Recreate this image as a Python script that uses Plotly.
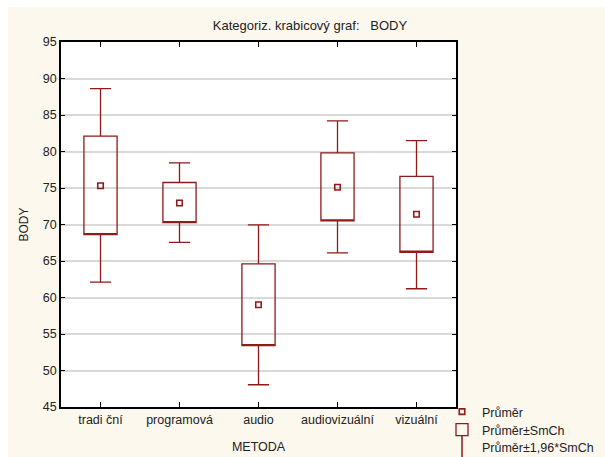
import plotly.graph_objects as go

# ---- data ----
categories = ["tradi ční", "programová", "audio", "audiovizuální", "vizuální"]
mean_vals = [75.3, 72.95, 59.0, 75.1, 71.4]
se_low = [68.6, 70.25, 53.4, 70.5, 66.2]        # Průměr - SmCh
se_high = [82.1, 75.75, 64.6, 79.8, 76.6]       # Průměr + SmCh
ci_low = [62.1, 67.55, 48.05, 66.1, 61.2]       # Průměr - 1,96*SmCh
ci_high = [88.6, 78.45, 69.95, 84.2, 81.5]      # Průměr + 1,96*SmCh
y_ticks = [45, 50, 55, 60, 65, 70, 75, 80, 85, 90, 95]

DARK_RED = "#8E1A1A"
CREAM = "#FDF8EE"
FONT = "Arial, Liberation Sans, sans-serif"
TXT = "#222222"

fig = go.Figure()

fig.add_trace(go.Box(
    x=categories,
    q1=se_low, median=se_low, q3=se_high,
    lowerfence=ci_low, upperfence=ci_high,
    name="Průměr±SmCh",
    line=dict(color=DARK_RED, width=1.3),
    fillcolor="rgba(255,255,255,0)",
    width=0.42,
    whiskerwidth=0.64,
    boxpoints=False,
    hoverinfo="skip",
    legend="legend2",
))

fig.add_trace(go.Scatter(
    x=categories, y=mean_vals, mode="markers",
    name="Průměr",
    marker=dict(symbol="square-open", size=5.5, color=DARK_RED,
                line=dict(color=DARK_RED, width=1.6)),
    legend="legend",
))

fig.add_trace(go.Scatter(
    x=[None], y=[None], mode="markers",
    name="Průměr±1,96*SmCh",
    marker=dict(symbol="line-ns-open", size=16, color=DARK_RED,
                line=dict(color=DARK_RED, width=1.5)),
    legend="legend3",
))

PX0, PX1 = 61, 456
PY0, PY1 = 42, 407
W, H = 605, 457
pw, ph = PX1 - PX0, PY1 - PY0

def fx(px):
    return (px - PX0) / pw

def fy(py):
    return (PY1 - py) / ph

shapes = [
    dict(type="rect", xref="paper", yref="paper", layer="below",
         x0=fx(0), x1=fx(W), y0=fy(7), y1=fy(0),
         fillcolor="white", line=dict(width=0)),
    dict(type="rect", xref="paper", yref="paper", layer="below",
         x0=fx(0), x1=fx(8), y0=fy(H), y1=fy(0),
         fillcolor="white", line=dict(width=0)),
]

def leg(top_px):
    return dict(x=fx(442), y=fy(top_px), xanchor="left", yanchor="top",
                bgcolor="rgba(0,0,0,0)", borderwidth=0,
                font=dict(family=FONT, size=12.5, color=TXT),
                itemwidth=30)

fig.update_layout(
    width=W, height=H,
    margin=dict(l=PX0, r=W - PX1, t=PY0, b=H - PY1, pad=0, autoexpand=False),
    paper_bgcolor=CREAM,
    plot_bgcolor="white",
    font=dict(family=FONT, size=11, color=TXT),
    title=dict(text="Kategoriz. krabicový graf:\u00a0\u00a0\u00a0BODY",
               x=310 / W, xref="container", xanchor="center",
               y=1 - 25 / H, yref="container", yanchor="middle",
               font=dict(family=FONT, size=13, color=TXT)),
    shapes=shapes,
    showlegend=True,
    legend=leg(397),
    legend2=leg(415),
    legend3=leg(432),
    xaxis=dict(
        type="category", range=[-0.5, 4.5],
        showline=True, linecolor="black", linewidth=1.5, mirror="ticks",
        ticks="inside", ticklen=5, tickcolor="black", tickwidth=1.2,
        showgrid=False, zeroline=False,
        tickfont=dict(family=FONT, size=12.5, color=TXT),
        title=dict(text="METODA", standoff=16,
                   font=dict(family=FONT, size=12.5, color=TXT)),
    ),
    yaxis=dict(
        range=[45, 95], tickvals=y_ticks,
        showline=True, linecolor="black", linewidth=1.5, mirror="ticks",
        ticks="inside", ticklen=4, tickcolor="black", tickwidth=1.2,
        showgrid=True, gridcolor="#D9D9D9", gridwidth=1.5, zeroline=False,
        tickfont=dict(family=FONT, size=12.5, color=TXT),
        title=dict(text="BODY", standoff=12,
                   font=dict(family=FONT, size=12, color=TXT)),
    ),
)

fig.write_html("out.html")
